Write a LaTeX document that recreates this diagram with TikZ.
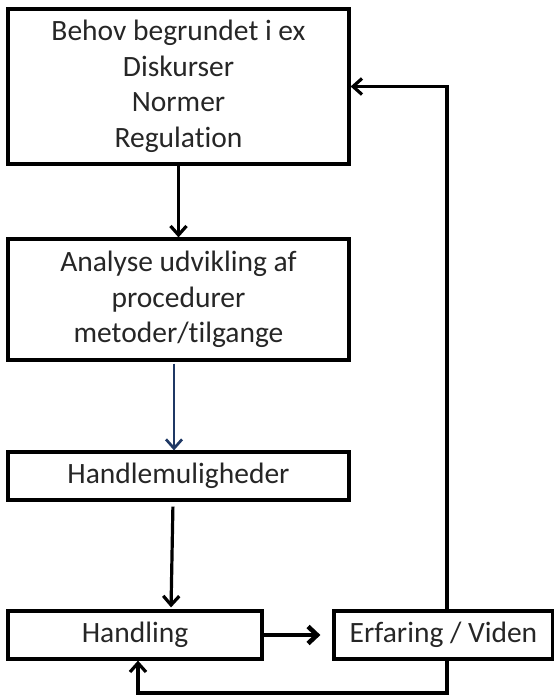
\documentclass[tikz,border=0pt]{standalone}
\usepackage{fontspec}
\setmainfont{Carlito}[Ligatures=NoCommon]
\usetikzlibrary{arrows.meta}
\definecolor{moerkblaa}{RGB}{31,56,100}
\begin{document}
\begin{tikzpicture}[x=1pt, y=-1pt,
    boks/.style={draw, line width=3.2pt, align=center, inner sep=0pt,
        font=\fontsize{29.5}{35.5}\selectfont, text=black!85},
    pil/.style={line width=3.2pt, -{Straight Barb[length=9pt,width=16pt]}},
    tykpil/.style={line width=4.6pt, -{Straight Barb[length=9pt,width=17pt]}}]
    \useasboundingbox (0,0) rectangle (554,696);
    %Kasser
    \node[boks, minimum width=341pt, minimum height=155pt] (behov) at (178.5,86.5)
        {Behov begrundet i ex\\Diskurser\\Normer\\Regulation};
    \node[boks, minimum width=341pt, minimum height=121pt] (analyse) at (178.5,299.5)
        {Analyse udvikling af\\procedurer\\metoder/tilgange};
    \node[boks, minimum width=341pt, minimum height=48pt] (muligheder) at (178.5,476)
        {Handlemuligheder};
    \node[boks, minimum width=254pt, minimum height=48pt] (handling) at (135,635)
        {Handling};
    \node[boks, minimum width=219pt, minimum height=48pt] (erfaring) at (443.5,635)
        {Erfaring / Viden};
    %Pile ned
    \draw[pil] (behov) -- (analyse);
    \draw[pil, line width=2.7pt, moerkblaa, shorten <=2pt] ([xshift=-4.5pt]analyse.south) -- ([xshift=-4.5pt]muligheder.north);
    \draw[pil, shorten <=5pt, shorten >=2pt] ([xshift=-5.5pt]muligheder.south) -- ([xshift=36pt]handling.north);
    %Handling til erfaring
    \draw[tykpil, shorten >=12pt] (handling.east) -- (erfaring.west);
    %Tilbage
    \coordinate (hjoerne) at (447,693);
    \draw[pil] ([xshift=3.5pt]erfaring.north) |- (behov.east);
    \draw[pil] ([xshift=3.5pt]erfaring.south) -- (hjoerne) -| ([xshift=3pt]handling.south);
\end{tikzpicture}
\end{document}
